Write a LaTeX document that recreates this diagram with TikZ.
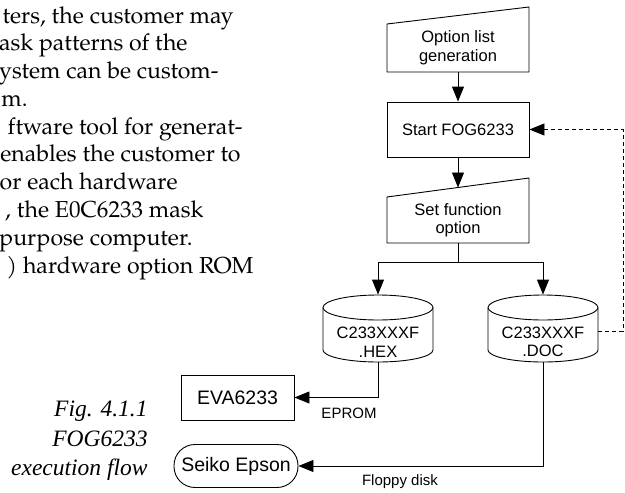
\documentclass[tikz,border=0pt]{standalone}
\usepackage{fontspec}
\usetikzlibrary{arrows.meta}
\newfontfamily\arialf{Liberation Sans}
\newfontfamily\timesf{Liberation Serif}
\newfontfamily\palf{TeX Gyre Pagella}
\begin{document}
\begin{tikzpicture}[x=1pt,y=-1pt,line width=0.9pt,
  body/.style={anchor=base east,inner sep=0pt,font=\palf\fontsize{23.1}{27.8}\selectfont},
  dtext/.style={inner sep=0pt,align=center,font=\arialf\fontsize{16.5}{18.5}\selectfont},
  bigtext/.style={font=\arialf\fontsize{19.5}{22}\selectfont},
  small/.style={inner sep=0pt,font=\arialf\fontsize{15}{17}\selectfont},
  flowbox/.style={draw,minimum width=142pt,align=center,inner sep=0pt,font=\arialf\fontsize{16.5}{18.5}\selectfont},
  plainbox/.style={draw=none,minimum width=142pt,align=center,inner sep=0pt,font=\arialf\fontsize{16.5}{18.5}\selectfont},
  cylnode/.style={draw=none,minimum width=110pt,minimum height=67pt,inner sep=0pt},
  arr/.style={-{Triangle[length=15pt,width=12pt]}},
  dsh/.style={dash pattern=on 4pt off 3pt,line width=0.8pt}]
\useasboundingbox (0,0) rectangle (625,493);

% body text (cropped page column)
\node[body] (b1) at (234,23) {ters, the customer may};
\node[body] (b2) at (188,50.5) {ask patterns of the};
\node[body] (b3) at (219,78) {ystem can be custom-};
\node[body,anchor=base west] (b4) at (1,106) {m.};
\node[body] (b5) at (243,134) {ftware tool for generat-};
\node[body] (b6) at (241,161) {enables the customer to};
\node[body] (b7) at (178,189) {or each hardware};
\node[body] (b8) at (204,217) {, the E0C6233 mask};
\node[body] (b9) at (193,245) {purpose computer.};
\node[body] (b10) at (254,273) {) hardware option ROM};

% caption
\node[anchor=east,align=right,inner sep=0pt,font=\timesf\itshape\fontsize{23.5}{29.5}\selectfont] (cap) at (148,441) {Fig. 4.1.1\\FOG6233\\execution flow};

% option list generation (manual input)
\node[plainbox,minimum height=49pt] (opt) at (458,47.5) {Option list\\generation};
\draw (387,24) -- (529,7) -- (529,72) -- (387,72) -- cycle;

% start
\node[flowbox,minimum height=55pt] (start) at (458,129.5) {Start FOG6233};

% set function option (manual input)
\node[plainbox,minimum height=46pt] (set) at (458,220) {Set function\\option};
\draw (387,197) -- (529,178) -- (529,243) -- (387,243) -- cycle;
\coordinate (setTop) at (458,187.5);

\draw[arr] (opt.south) -- (start.north);
\draw[arr] (start.south) -- (setTop);

% cylinders
\node[cylnode] (hex) at (378,328.5) {};
\draw (378,307.5) ellipse [x radius=55pt,y radius=12.5pt];
\draw (323,307.5) -- (323,350) arc[start angle=180,end angle=360,x radius=55pt,y radius=12pt] -- (433,307.5);
\node[dtext] (hextxt) at (378,342) {C233XXXF\\.HEX};

\node[cylnode] (doc) at (543,328.5) {};
\draw (543,307.5) ellipse [x radius=55pt,y radius=12.5pt];
\draw (488,307.5) -- (488,350) arc[start angle=180,end angle=360,x radius=55pt,y radius=12pt] -- (598,307.5);
\node[dtext] (doctxt) at (543,342) {C233XXXF\\.DOC};

% branch
\coordinate (br) at (458,262);
\draw (set.south) -- (br);
\draw[arr] (br) -| (hex.north);
\draw[arr] (br) -| (doc.north);

% EVA
\node[draw,bigtext,minimum width=113pt,minimum height=45pt,inner sep=0pt] (eva) at (237.5,397.5) {EVA6233};
\draw[arr] (hex.south) |- (eva.east);
\node[small] (eprom) at (349,413) {EPROM};

% Seiko Epson
\node[draw,bigtext,rounded corners=21pt,minimum width=124pt,minimum height=43pt,inner sep=0pt] (seiko) at (236,466) {Seiko Epson};
\draw[arr] (doc.south) |- (seiko.east);
\node[small] (floppy) at (400,482) {Floppy disk};

% dashed feedback
\coordinate (dc) at (623,331);
\draw[dsh,arr] (doc.east |- dc) -- (dc) |- (start.east);
\end{tikzpicture}
\end{document}
